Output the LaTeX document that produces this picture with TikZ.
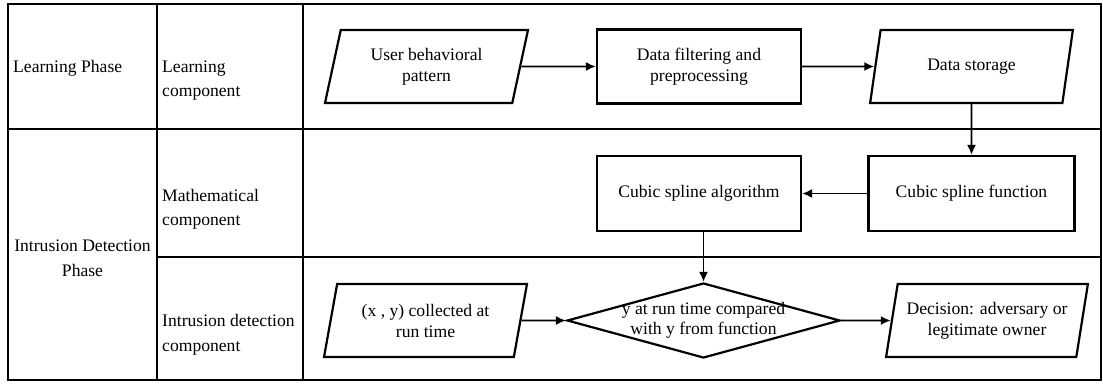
\documentclass[tikz,border=0pt]{standalone}
\usepackage{fontspec}
\setmainfont{Liberation Serif}
\usepackage{tikz}
\usetikzlibrary{arrows.meta,shapes.geometric}

\tikzset{
    tbl/.style={line width=2.2pt},
    lbl/.style={font=\fontsize{17.6}{24.5}\selectfont, align=left, inner sep=5pt},
    io/.style={trapezium, trapezium left angle=76, trapezium right angle=104,
        trapezium stretches=true, draw, line width=2.2pt, minimum width=203pt,
        minimum height=73pt, align=center, font=\fontsize{17.6}{21}\selectfont},
    proc/.style={rectangle, draw, line width=2.2pt, minimum width=204pt,
        minimum height=74pt, align=center, font=\fontsize{17.6}{21}\selectfont},
    decision/.style={diamond, draw, line width=2.2pt, minimum width=273pt,
        minimum height=75pt, inner sep=0pt},
    arr/.style={-{Latex[length=10pt,width=9pt]}, line width=1.8pt}
}

\begin{document}
\begin{tikzpicture}[x=1pt, y=-1pt]

    \useasboundingbox[fill=white] (0, 0) rectangle (1103, 383);

    % table
    \draw [tbl] (8, 4) rectangle (1101, 380);
    \draw [tbl] (157, 4) -- (157, 380);
    \draw [tbl] (303, 4) -- (303, 380);
    \draw [tbl] (8, 129) -- (1101, 129);
    \draw [tbl] (157, 257) -- (1101, 257);

    % phases and components
    \node [lbl, anchor=west] (learnphase) at (8, 68) {Learning Phase};
    \node [lbl, anchor=west] (learncomp) at (157, 80.5) {Learning\\component};
    \node [lbl, align=center] (intrphase) at (82.5, 258.5) {Intrusion Detection\\Phase};
    \node [lbl, anchor=west] (mathcomp) at (157, 209.5) {Mathematical\\component};
    \node [lbl, anchor=west] (intrcomp) at (157, 335) {Intrusion detection\\component};

    % learning
    \node [io] (user) at (426.5, 66.5) {User behavioral\\pattern};
    \node [proc] (filter) at (699, 66.5) {Data filtering and\\preprocessing};
    \node [io] (store) at (971.5, 66.5) {Data storage};

    % mathematical
    \node [proc, minimum width=206pt, minimum height=75pt] (func) at (971.5, 193.5) {Cubic spline function};
    \node [proc, minimum height=75pt] (alg) at (699, 193.5) {Cubic spline algorithm};

    % intrusion detection
    \node [io] (xy) at (425.5, 320.5) {(x , y) collected at\\run time};
    \node [decision, label={[font=\fontsize{17.6}{20}\selectfont, align=center]center:y at run time compared\\with y from function}] (cmp) at (703.5, 320.5) {};
    \node [io, minimum width=202pt] (decide) at (987, 320.5) {Decision: adversary or\\legitimate owner};

    \draw [arr] (user) -- (filter);
    \draw [arr] (filter) -- (store);
    \draw [arr] (store) -- (func);
    \draw [arr] (func) -- (alg);
    \draw [arr] (alg.south -| cmp.north) -- (cmp.north);
    \draw [arr] (xy) -- (cmp);
    \draw [arr] (cmp) -- (decide);

\end{tikzpicture}
\end{document}
